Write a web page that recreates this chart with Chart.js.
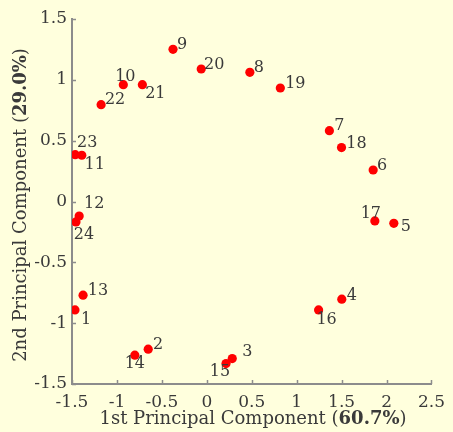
<!DOCTYPE html>
<html>
<head>
<meta charset="utf-8">
<script src="https://cdn.jsdelivr.net/npm/chart.js@4"></script>
<style>
  html, body { margin: 0; padding: 0; background: #ffffdd; }
  #wrap { width: 453px; height: 432px; }
</style>
</head>
<body>
<div id="wrap"><canvas id="pca"></canvas></div>
<script>
// observation numbers and their scores on the first two components
const obsLabels = ['1','2','3','4','5','6','7','8','9','10','11','12',
                   '13','14','15','16','17','18','19','20','21','22','23','24'];
const pc1 = [-1.467, -0.652, 0.283, 1.502, 2.081, 1.851, 1.364, 0.479, -0.376, -0.929, -1.391, -1.420,
             -1.377, -0.801, 0.214, 1.244, 1.870, 1.499, 0.818, -0.062, -0.717, -1.176, -1.464, -1.456];
const pc2 = [-0.891, -1.214, -1.291, -0.803, -0.179, 0.259, 0.582, 1.062, 1.251, 0.960, 0.380, -0.119,
             -0.770, -1.263, -1.332, -0.891, -0.160, 0.443, 0.933, 1.089, 0.960, 0.796, 0.385, -0.168];
const xTicks = [-1.5, -1, -0.5, 0, 0.5, 1, 1.5, 2, 2.5];
const yTicks = [-1.5, -1, -0.5, 0, 0.5, 1, 1.5];
const xTitle = ['1st Principal Component (', '60.7%', ')'];
const yTitle = ['2nd Principal Component (', '29.0%', ')'];

// where each number sits relative to its dot (text centre offset, px)
const labelShift = {
  1: [11, 10], 2: [10, -4], 3: [15, -7], 4: [10, -3], 5: [12, 4], 6: [9, -4],
  7: [10, -5], 8: [9, -4], 9: [9, -4], 10: [2, -8], 11: [13, 10], 12: [15, -12],
  13: [15, -4], 14: [0, 9], 15: [-6, 8], 16: [8, 10], 17: [-4, -7], 18: [15, -4],
  19: [15, -4], 20: [13, -4], 21: [13, 9], 22: [14, -5], 23: [12, -12], 24: [8, 13]
};

const FONT = '"DejaVu Serif", serif';
const TEXT = '#3a3a3a';
const AXIS = '#8c8c8c';

const extras = {
  id: 'extras',
  afterDatasetsDraw(chart) {
    const ctx = chart.ctx;
    const meta = chart.getDatasetMeta(0);
    ctx.save();
    ctx.font = '16px ' + FONT;
    ctx.fillStyle = TEXT;
    ctx.textAlign = 'center';
    ctx.textBaseline = 'middle';
    meta.data.forEach((pt, i) => {
      const s = labelShift[obsLabels[i]] || [10, -4];
      ctx.fillText(obsLabels[i], pt.x + s[0], pt.y + s[1]);
    });
    ctx.restore();
  },
  afterDraw(chart) {
    const ctx = chart.ctx;
    const area = chart.chartArea;
    const xs = chart.scales.x, ys = chart.scales.y;
    ctx.save();
    // inward tick marks
    ctx.strokeStyle = AXIS;
    ctx.lineWidth = 1.5;
    ctx.beginPath();
    xTicks.forEach(v => {
      const px = Math.round(xs.getPixelForValue(v)) + 0.5;
      ctx.moveTo(px, area.bottom);
      ctx.lineTo(px, area.bottom - 4);
    });
    yTicks.forEach(v => {
      const py = Math.round(ys.getPixelForValue(v)) + 0.5;
      ctx.moveTo(area.left, py);
      ctx.lineTo(area.left + 4, py);
    });
    ctx.stroke();

    // axis titles, percentage in bold
    const drawTitle = (parts, cx, cy) => {
      const fonts = ['18px ' + FONT, 'bold 18px ' + FONT, '18px ' + FONT];
      let total = 0;
      const w = parts.map((p, i) => { ctx.font = fonts[i]; const m = ctx.measureText(p).width; total += m; return m; });
      let x = cx - total / 2;
      ctx.fillStyle = TEXT;
      ctx.textBaseline = 'middle';
      ctx.textAlign = 'left';
      parts.forEach((p, i) => { ctx.font = fonts[i]; ctx.fillText(p, x, cy); x += w[i]; });
    };
    drawTitle(xTitle, 253, 419);
    ctx.save();
    ctx.translate(21, 205);
    ctx.rotate(-Math.PI / 2);
    drawTitle(yTitle, 0, 0);
    ctx.restore();
    ctx.restore();
  }
};

new Chart(document.getElementById('pca'), {
  type: 'scatter',
  data: {
    datasets: [{
      data: pc1.map((x, i) => ({ x: x, y: pc2[i] })),
      backgroundColor: '#ff0000',
      borderWidth: 0,
      pointRadius: 4.6,
      pointHoverRadius: 4.6
    }]
  },
  options: {
    responsive: true,
    maintainAspectRatio: false,
    animation: false,
    layout: { padding: { top: 19, right: 15, bottom: 0, left: 0 } },
    plugins: { legend: { display: false }, tooltip: { enabled: false } },
    scales: {
      x: {
        type: 'linear',
        min: -1.5, max: 2.5,
        afterBuildTicks: s => { s.ticks = xTicks.map(v => ({ value: v })); },
        afterFit: s => { s.height = 48; },
        grid: { drawOnChartArea: false, drawTicks: false },
        border: { color: AXIS, width: 2 },
        ticks: { color: TEXT, padding: 8, font: { family: FONT, size: 17 }, maxRotation: 0,
                 callback: v => String(v) }
      },
      y: {
        type: 'linear',
        min: -1.5, max: 1.5,
        afterBuildTicks: s => { s.ticks = yTicks.map(v => ({ value: v })); },
        afterFit: s => { s.width = 72; },
        grid: { drawOnChartArea: false, drawTicks: false },
        border: { color: AXIS, width: 2 },
        ticks: { color: TEXT, padding: 5, font: { family: FONT, size: 17 },
                 callback: v => String(v) }
      }
    }
  },
  plugins: [extras]
});
</script>
</body>
</html>
